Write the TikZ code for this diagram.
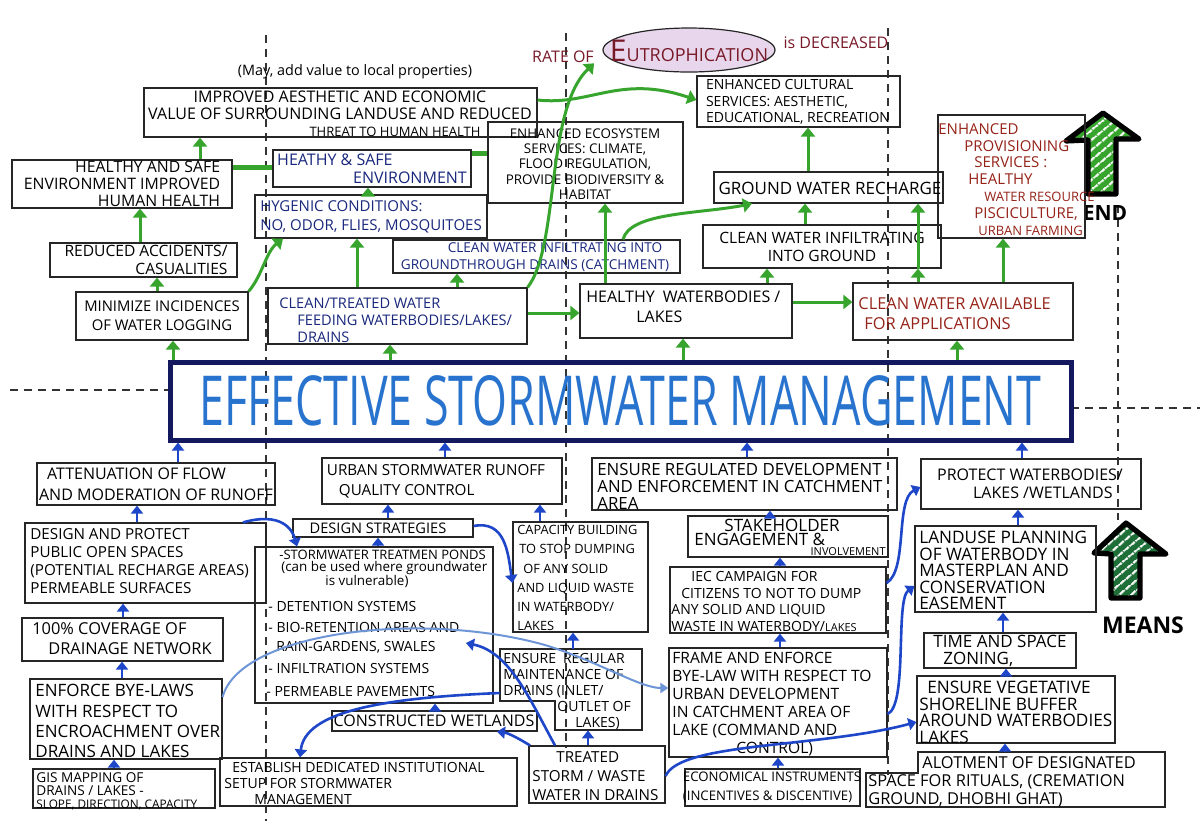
\documentclass[tikz,border=0pt]{standalone}
\usepackage{graphicx}
\usepackage{fontspec}
\setmainfont{Open Sans}
\usetikzlibrary{arrows.meta,fit,shapes.geometric,patterns.meta}
\definecolor{grn}{RGB}{55,165,45}
\definecolor{blu}{RGB}{30,70,200}
\definecolor{lblu}{RGB}{110,150,215}
\definecolor{navyt}{RGB}{25,40,125}
\definecolor{redt}{RGB}{150,35,25}
\definecolor{mainb}{RGB}{20,25,95}
\definecolor{maint}{RGB}{40,115,205}
\definecolor{lav}{RGB}{232,215,236}
\definecolor{maroont}{RGB}{120,25,40}
\definecolor{dgrn}{RGB}{30,110,55}
\newcommand\fsz[2]{\fontsize{#1}{#2}\selectfont}
\newcommand\mybox[5]{\node[box,fit={(#2,#3)(#4,#5)}] (#1) {};}
\newcommand\myghost[5]{\node[inner sep=0pt,fit={(#2,#3)(#4,#5)}] (#1) {};}
\begin{document}
\begin{tikzpicture}[x=0.5pt,y=-0.5pt,
 box/.style={draw=black!85,line width=0.6pt,inner sep=0pt,rectangle},
 bl/.style={draw=black!85,line width=0.6pt},
 tx/.style={inner sep=0pt,align=left,font=\fsz{7.5}{8.8}},
 nv/.style={text=navyt},
 rd/.style={text=redt},
 ga/.style={draw=grn,line width=1.5pt,-{Triangle[width=7pt,length=4.5pt]}},
 ba/.style={draw=blu,line width=1.3pt,-{Triangle[width=6pt,length=4pt]}},
 lba/.style={draw=lblu,line width=1pt,-{Triangle[width=5pt,length=4pt]}},
 gbar/.style={draw=grn,line width=2.5pt},
 dsh/.style={draw=black!80,line width=0.6pt,dash pattern=on 4pt off 3pt},
 hatch/.style={postaction={pattern={Lines[angle=40,distance=4pt,line width=1.1pt]},pattern color=white},
               postaction={draw=black,line width=2.6pt,line join=round}}
]
\useasboundingbox (0,0) rectangle (1200,821);
\fill[white] (0,0) rectangle (1200,821);

% dashed guides
\draw[dsh] (266,35) -- (266,821);
\draw[dsh] (566,33) -- (566,748);
\draw[dsh] (888,28) -- (888,775);
\draw[dsh] (1118,205) -- (1118,520);
\draw[dsh] (10,390) -- (170,390);
\draw[dsh] (1071,408) -- (1200,408);

% big arrows
\path[fill=grn,hatch] (1103,113) -- (1139,139) -- (1116,139) -- (1116,194) -- (1088,194) -- (1088,140) -- (1066,141) -- cycle;
\node[font=\bfseries\fsz{10.5}{11},inner sep=0pt] (endT) at (1105,213) {END};
\path[fill=dgrn,hatch] (1126,523) -- (1166,554) -- (1140,554) -- (1140,598) -- (1111,598) -- (1111,554) -- (1094,553) -- cycle;
\node[font=\bfseries\fsz{11.5}{12},inner sep=0pt] (meansT) at (1143,625) {MEANS};

% header texts
\node[tx,font=\fsz{7.2}{8}] (note) at (355,72) {(May, add value to local properties)};
\node[tx,text=maroont,font=\fsz{8}{9}] (rate) at (563,57) {RATE OF};
\node[ellipse,draw=black!85,line width=0.6pt,fill=lav,minimum width=86pt,minimum height=22pt,inner sep=0pt] (eutroE) at (689,50) {};
\node[tx,text=maroont,font=\fsz{9}{10}] (eutro) at (689,51) {{\fsz{15}{15}E}UTROPHICATION};
\node[tx,text=maroont,font=\fsz{8}{9}] (decr) at (836,43) {is DECREASED};

% top boxes
\mybox{aes}{144}{88}{537}{137}
\mybox{hs}{12}{160}{232}{208}
\mybox{heathy}{273}{150}{471}{187}
\mybox{hyg}{255}{195}{487}{238}
\mybox{eco}{488}{122}{683}{203}
\mybox{cult}{697}{76}{900}{127}
\mybox{gwr}{714}{172}{943}{203}
\mybox{cwig}{703}{225}{941}{268}
\mybox{prov}{938}{115}{1085}{238}
\mybox{ra}{50}{243}{237}{277}
\mybox{cwid}{393}{240}{680}{273}
\mybox{mini}{76}{292}{248}{340}
\mybox{ctw}{268}{288}{527}{344}
\mybox{hw}{580}{284}{792}{338}
\mybox{cwa}{853}{283}{1073}{340}

\node[tx,align=center,font=\fsz{8}{8.6}] (aesT) at (340,114) {IMPROVED AESTHETIC AND ECONOMIC\\VALUE OF SURROUNDING LANDUSE AND REDUCED\\\hspace*{55pt}{\fsz{6.5}{6.8}THREAT TO HUMAN HEALTH}};
\node[tx,align=right,font=\fsz{7.9}{8.4}] (hsT) at (122,184) {HEALTHY AND SAFE\\ENVIRONMENT IMPROVED\\HUMAN HEALTH};
\node[tx,nv,font=\fsz{8}{9}] (heathyT) at (372,169) {HEATHY \& SAFE\\\hspace*{38pt}ENVIRONMENT};
\node[tx,nv,font=\fsz{7.5}{9.2}] (hygT) at (371,217) {HYGENIC CONDITIONS:\\NO, ODOR, FLIES, MOSQUITOES};
\node[tx,align=center,font=\fsz{6.7}{7.6}] (ecoT) at (585,164) {ENHANCED ECOSYSTEM\\SERVICES: CLIMATE,\\FLOOD REGULATION,\\PROVIDE BIODIVERSITY \&\\HABITAT};
\node[tx,font=\fsz{7}{8.3}] (cultT) at (798,102) {ENHANCED CULTURAL\\SERVICES: AESTHETIC,\\EDUCATIONAL, RECREATION};
\node[tx,font=\fsz{8.5}{9}] (gwrT) at (830,188) {GROUND WATER RECHARGE};
\node[tx,align=center,font=\fsz{7.8}{9}] (cwigT) at (822,247) {CLEAN WATER INFILTRATING\\INTO GROUND};
\node[tx,rd,anchor=north west,font=\fsz{7.5}{8.4}] (provT) at (938,123) {ENHANCED\\\hspace*{13pt}PROVISIONING\\\hspace*{18pt}SERVICES :\\\hspace*{15pt}HEALTHY\\\hspace*{23pt}{\fsz{6.5}{8.4}WATER RESOURCE}\\\hspace*{18pt}PISCICULTURE,\\\hspace*{20pt}{\fsz{6.5}{8.4}URBAN FARMING}};
\node[tx,align=right,font=\fsz{7.8}{8.6}] (raT) at (146,260) {REDUCED ACCIDENTS/\\CASUALITIES};
\node[tx,nv,align=center,font=\fsz{6.8}{8.2}] (cwidT) at (535,257) {\hspace*{20pt}CLEAN WATER INFILTRATING INTO\\GROUNDTHROUGH DRAINS (CATCHMENT)};
\node[tx,align=center,font=\fsz{7.4}{9.6}] (miniT) at (162,316) {MINIMIZE INCIDENCES\\OF WATER LOGGING};
\node[tx,nv,anchor=north west,font=\fsz{7.3}{8.5}] (ctwT) at (279,298) {CLEAN/TREATED WATER\\\hspace*{9pt}FEEDING WATERBODIES/LAKES/\\\hspace*{9pt}DRAINS};
\node[tx,anchor=north west,font=\fsz{8}{10}] (hwT) at (586,290) {HEALTHY\enspace WATERBODIES /\\\hspace*{25pt}LAKES};
\node[tx,rd,anchor=north west,font=\fsz{8.2}{10}] (cwaT) at (858,297) {CLEAN WATER AVAILABLE\\\hspace*{3pt}FOR APPLICATIONS};

% main box
\node[draw=mainb,line width=2.5pt,inner sep=0pt,fit={(170,362)(1071,440)}] (main) {};
\node[inner sep=0pt,text=maint] (mainT) at (main.center) {\resizebox{421pt}{25pt}{EFFECTIVE STORMWATER MANAGEMENT}};

% bottom boxes
\mybox{att}{37}{463}{275}{505}
\mybox{urb}{322}{458}{562}{504}
\mybox{reg}{592}{458}{897}{510}
\mybox{prot}{921}{459}{1141}{509}
\mybox{dp}{25}{523}{266}{603}
\mybox{ds}{293}{519}{473}{537}
\mybox{lst}{255}{547}{493}{703}
\mybox{cap}{513}{522}{648}{632}
\mybox{stk}{688}{516}{888}{557}
\mybox{iec}{670}{567}{886}{633}
\mybox{land}{915}{526}{1096}{612}
\mybox{cov}{22}{618}{223}{661}
\myghost{mnt}{500}{649}{642}{730}
\draw[bl] (500,649) -- (642,649) -- (642,730) -- (555,730) -- (555,701) -- (500,701) -- cycle;
\mybox{frm}{669}{648}{887}{757}
\mybox{tsz}{924}{633}{1076}{668}
\mybox{veg}{917}{676}{1115}{743}
\mybox{enf}{30}{679}{222}{759}
\mybox{cw}{332}{711}{537}{731}
\mybox{gis}{33}{769}{215}{808}
\mybox{est}{220}{758}{517}{806}
\mybox{trt}{529}{746}{665}{803}
\mybox{econ}{685}{769}{860}{806}
\myghost{alt}{866}{752}{1165}{807}
\draw[bl] (918,752) -- (1165,752) -- (1165,807) -- (866,807) -- (866,773) -- (918,773) -- cycle;

\node[tx,font=\fsz{8}{10.5}] (attT) at (156,484) {\hspace*{4pt}ATTENUATION OF FLOW\\AND MODERATION OF RUNOFF};
\node[tx,font=\fsz{7.6}{10}] (urbT) at (436,481) {URBAN STORMWATER RUNOFF\\\hspace*{6pt}QUALITY CONTROL};
\node[tx,anchor=north west,font=\fsz{8.4}{8.6}] (regT) at (597,463) {ENSURE REGULATED DEVELOPMENT\\AND ENFORCEMENT IN CATCHMENT\\AREA};
\node[tx,font=\fsz{8}{9}] (protT) at (1030,484) {PROTECT WATERBODIES/\\\hspace*{18pt}LAKES /WETLANDS};
\node[tx,anchor=north west,font=\fsz{7.6}{9}] (dpT) at (30,528) {DESIGN AND PROTECT\\PUBLIC OPEN SPACES\\(POTENTIAL RECHARGE AREAS)\\PERMEABLE SURFACES};
\node[tx,font=\fsz{7.3}{8}] (dsT) at (378,528) {DESIGN STRATEGIES};
\node[tx,anchor=west,font=\fsz{6.5}{7}] (l1) at (279,555) {-STORMWATER TREATMEN PONDS};
\node[tx,anchor=west,font=\fsz{6.7}{7}] (l2) at (281,568) {(can be used where groundwater};
\node[tx,anchor=west,font=\fsz{6.7}{7}] (l3) at (325,581) {is vulnerable)};
\node[tx,anchor=west,font=\fsz{7}{7}] (l4) at (268,606) {- DETENTION SYSTEMS};
\node[tx,anchor=west,font=\fsz{7}{7}] (l5) at (268,627) {- BIO-RETENTION AREAS AND};
\node[tx,anchor=west,font=\fsz{7}{7}] (l6) at (276,647) {RAIN-GARDENS, SWALES};
\node[tx,anchor=west,font=\fsz{7}{7}] (l7) at (268,668) {- INFILTRATION SYSTEMS};
\node[tx,anchor=west,font=\fsz{7}{7}] (l8) at (266,691) {- PERMEABLE PAVEMENTS};
\node[tx,anchor=north west,font=\fsz{6.4}{9.6}] (capT) at (517,525) {CAPACITY BUILDING\\\hspace*{1pt}TO STOP DUMPING\\\hspace*{3pt}OF ANY SOLID\\AND LIQUID WASTE\\IN WATERBODY/\\LAKES};
\node[tx,font=\fsz{8.5}{9}] (stkA) at (782,525) {STAKEHOLDER};
\node[tx,anchor=west,font=\fsz{8.5}{9}] (stkB) at (694,539) {ENGAGEMENT \&};
\node[tx,anchor=east,font=\fsz{5.5}{6}] (stkC) at (886,552) {INVOLVEMENT};
\node[tx,anchor=north west,font=\fsz{7}{8.3}] (iecT) at (671,571) {\hspace*{10pt}IEC CAMPAIGN FOR\\\hspace*{5pt}CITIZENS TO NOT TO DUMP\\ANY SOLID AND LIQUID\\WASTE IN WATERBODY/{\fsz{5.5}{8.3}LAKES}};
\node[tx,anchor=north west,font=\fsz{8.6}{8.2}] (landT) at (919,531) {LANDUSE PLANNING\\OF WATERBODY IN\\MASTERPLAN AND\\CONSERVATION\\EASEMENT};
\node[tx,font=\fsz{8.2}{10}] (covT) at (122,639) {100\% COVERAGE OF\\\hspace*{8pt}DRAINAGE NETWORK};
\node[tx,anchor=north west,font=\fsz{7}{8}] (mntT) at (503,653) {ENSURE\enspace REGULAR\\MAINTENANCE OF\\DRAINS (INLET/\\\hspace*{27pt}OUTLET OF\\\hspace*{36pt}LAKES)};
\node[tx,anchor=north west,font=\fsz{7.8}{9}] (frmT) at (672,652) {FRAME AND ENFORCE\\BYE-LAW WITH RESPECT TO\\URBAN DEVELOPMENT\\IN CATCHMENT AREA OF\\LAKE (COMMAND AND\\\hspace*{32pt}CONTROL)};
\node[tx,font=\fsz{8.5}{8.5}] (tszT) at (1000,651) {TIME AND SPACE\\\hspace*{5pt}ZONING,};
\node[tx,anchor=north west,font=\fsz{8.6}{8.2}] (vegT) at (919,681) {\hspace*{4pt}ENSURE VEGETATIVE\\SHORELINE BUFFER\\AROUND WATERBODIES\\LAKES};
\node[tx,anchor=north west,font=\fsz{8.5}{10.2}] (enfT) at (35,684) {ENFORCE BYE-LAWS\\WITH RESPECT TO\\ENCROACHMENT OVER\\DRAINS AND LAKES};
\node[tx,font=\fsz{8}{8}] (cwT) at (434,721) {CONSTRUCTED WETLANDS};
\node[tx,anchor=north west,font=\fsz{6.8}{6.6}] (gisT) at (36,772) {GIS MAPPING OF\\DRAINS / LAKES -\\{\fsz{5.9}{6.6}SLOPE, DIRECTION, CAPACITY}};
\node[tx,anchor=north west,font=\fsz{7}{8}] (estT) at (224,762) {\hspace*{4pt}ESTABLISH DEDICATED INSTITUTIONAL\\SETUP FOR STORMWATER\\\hspace*{15pt}MANAGEMENT};
\node[tx,anchor=north west,font=\fsz{7.6}{9.5}] (trtT) at (532,751) {\hspace*{12pt}TREATED\\STORM / WASTE\\WATER IN DRAINS};
\node[tx,font=\fsz{6.6}{9.5}] (econT) at (772,787) {ECONOMICAL INSTRUMENTS\\(INCENTIVES \& DISCENTIVE)};
\node[tx,anchor=north west,font=\fsz{8.2}{9}] (altT) at (868,756) {\hspace*{27pt}ALOTMENT OF DESIGNATED\\SPACE FOR RITUALS, (CREMATION\\GROUND, DHOBHI GHAT)};

% green connectors
\draw[ga] (hs.north -| 200,0) -- (aes.south -| 200,0);
\draw[ga] (ra.north -| 140,0) -- (hs.south -| 140,0);
\draw[ga] (mini.north -| 157,0) -- (ra.south -| 157,0);
\draw[ga] (main.north -| 173,0) -- (mini.south -| 173,0);
\draw[ga] (mini.north east) .. controls (262,276) and (266,252) .. (hyg.south -| 283,0);
\draw[gbar] (hs.east |- 0,167) -- (heathy.west |- 0,167);
\draw[gbar] (heathy.east |- 0,153) -- (eco.west |- 0,153);
\draw[ga] (hyg.north -| 368,0) -- (heathy.south -| 368,0);
\draw[ga] (ctw.north -| 357,0) -- (hyg.south -| 357,0);
\draw[ga] (ctw.north -| 457,0) -- (cwid.south -| 457,0);
\draw[ga] (main.north -| 390,0) -- (ctw.south -| 390,0);
\draw[ga] (ctw.east |- 0,313) -- (hw.west |- 0,313);
\draw[ga] (ctw.north east) .. controls (560,245) and (545,110) .. (rate.south east);
\draw[ga] (aes.east |- 0,100) .. controls (590,106) and (620,74) .. (cult.west |- 0,100);
\draw[ga] (hw.north -| 605,0) -- (eco.south -| 605,0);
\draw[ga] (cwid.north -| 623,0) .. controls (630,212) and (700,214) .. (gwr.south -| 752,0);
\draw[ga] (hw.north -| 767,0) -- (cwig.south -| 767,0);
\draw[ga] (hw.east |- 0,302) -- (cwa.west |- 0,302);
\draw[ga] (main.north -| 683,0) -- (hw.south -| 683,0);
\draw[ga] (cwig.north -| 805,0) -- (gwr.south -| 805,0);
\draw[ga] (gwr.north -| 808,0) -- (cult.south -| 808,0);
\draw[ga] (cwa.north -| 918,0) -- (cwig.south -| 918,0);
\draw[ga] (cwig.south -| 918,0) -- (gwr.south -| 918,0);
\draw[ga] (cwa.north -| 1003,0) -- (prov.south -| 1003,0);
\draw[ga] (main.north -| 957,0) -- (cwa.south -| 957,0);

% blue connectors
\draw[ba] (att.north -| 178,0) -- (main.south -| 178,0);
\draw[ba] (dp.north -| 137,0) -- (att.south -| 137,0);
\draw[ba] (cov.north -| 123,0) -- (dp.south -| 123,0);
\draw[ba] (enf.north -| 122,0) -- (cov.south -| 122,0);
\draw[ba] (gis.north -| 114,0) -- (enf.south -| 114,0);
\draw[ba] (urb.north -| 445,0) -- (main.south -| 445,0);
\draw[ba] (ds.north -| 388,0) -- (urb.south -| 388,0);
\draw[ba] (lst.north -| 378,0) -- (ds.south -| 378,0);
\draw[ba] (cap.north -| 540,0) -- (urb.south -| 540,0);
\draw[ba] (dp.north -| 243,0) .. controls (280,512) and (292,528) .. (lst.north -| 297,0);
\draw[ba] (ds.east |- 0,526) .. controls (505,520) and (508,552) .. (cap.west |- 0,583);
\draw[ba] (mnt.north -| 573,0) -- (cap.south -| 573,0);
\draw[ba] (trt.north -| 588,0) -- (mnt.south -| 588,0);
\coordinate (swl) at (466,643);
\draw[ba] (trt.north -| 555,0) .. controls (530,700) and (510,652) .. (swl);
\draw[ba] (trt.north -| 530,0) .. controls (518,738) and (508,733) .. (cw.south -| 497,0);
\draw[ba] (cw.north -| 435,0) -- (lst.south -| 435,0);
\draw[ba] (mnt.west |- 0,693) .. controls (380,698) and (305,712) .. (est.north -| 300,0);
\draw[lba] (enf.east |- 0,697) .. controls (240,632) and (420,610) .. (545,645) .. controls (600,662) and (640,688) .. (frm.west |- 0,688);
\draw[ba] (trt.east |- 0,776) .. controls (680,742) and (820,748) .. (veg.west |- 0,722);
\draw[ba] (frm.east |- 0,714) .. controls (908,705) and (895,600) .. (land.west |- 0,586);
\draw[ba] (iec.east |- 0,583) .. controls (908,570) and (895,500) .. (prot.west |- 0,487);
\draw[ba] (reg.north -| 747,0) -- (main.south -| 747,0);
\draw[ba] (stk.north -| 770,0) -- (reg.south -| 770,0);
\draw[ba] (iec.north -| 780,0) -- (stk.south -| 780,0);
\draw[ba] (frm.north -| 780,0) -- (iec.south -| 780,0);
\draw[ba] (econ.north -| 778,0) -- (frm.south -| 778,0);
\draw[ba] (prot.north -| 1022,0) -- (main.south -| 1022,0);
\draw[ba] (land.north -| 1018,0) -- (prot.south -| 1018,0);
\draw[ba] (tsz.north -| 1003,0) -- (land.south -| 1003,0);
\draw[ba] (veg.north -| 1006,0) -- (tsz.south -| 1006,0);
\draw[ba] (alt.north -| 1005,0) -- (veg.south -| 1005,0);
\end{tikzpicture}
\end{document}
